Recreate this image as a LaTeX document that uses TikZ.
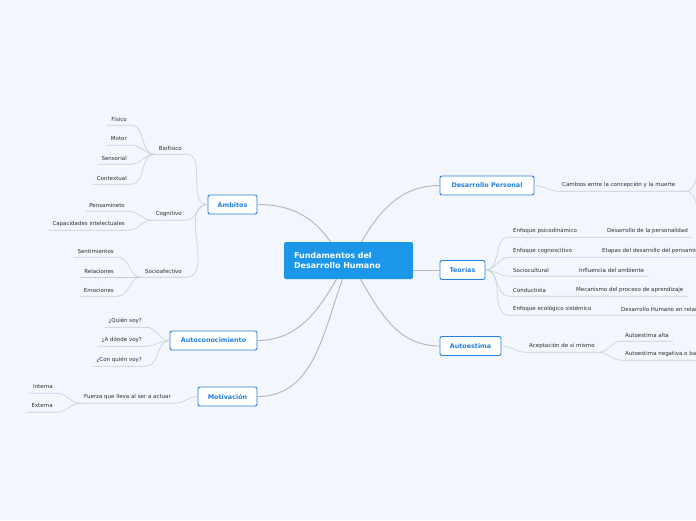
\documentclass[tikz,border=0pt]{standalone}
\usepackage{fontspec}
\setmainfont{DejaVu Sans}
\definecolor{bgcol}{RGB}{243,246,253}
\definecolor{mblue}{RGB}{35,128,222}
\definecolor{cblue}{RGB}{27,150,232}
\definecolor{lgray}{RGB}{200,204,212}
\definecolor{mgray}{RGB}{178,180,186}
\definecolor{tgray}{RGB}{45,45,45}
\begin{document}
\begin{tikzpicture}[x=1pt,y=-1pt,
  topic/.style={draw=mblue,fill=white,rounded corners=2pt,line width=0.9pt,text=mblue,
    font=\bfseries\fontsize{6.4}{7}\selectfont,minimum height=19pt,inner xsep=0pt},
  leaf/.style={text=tgray,font=\fontsize{5.5}{6}\selectfont,inner xsep=4pt,inner ysep=0pt,minimum height=12pt},
  link/.style={draw=lgray,line width=0.6pt},
  mainlink/.style={draw=mgray,line width=0.9pt}]
\fill[bgcol] (0,0) rectangle (696,520);
\useasboundingbox (0,0) rectangle (696,520);
\clip (0,0) rectangle (696,520);

\node[fill=cblue,rounded corners=2pt,minimum width=129pt,minimum height=37pt,text width=109pt,align=left,
  text=white,font=\bfseries\fontsize{8}{10.5}\selectfont] (fdh) at (348.5,260.5) {Fundamentos del\\Desarrollo Humano};

\foreach \n/\x/\y/\w/\t in {amb/232.5/204.5/49/Ámbitos, auc/213.5/340.5/87/Autoconocimiento,
  mot/227.5/396.5/59/Motivación, dep/487/185.5/94/Desarrollo Personal,
  teo/462.5/270/45/Teorías, aut/470.5/346/61/Autoestima}
  \node[topic,minimum width=\w pt] (\n) at (\x,\y) {\t};

\draw[mainlink] ([xshift=-18pt]fdh.north) to[out=125,in=0] (amb.east);
\draw[mainlink] ([xshift=-12pt]fdh.south) to[out=-120,in=0] (auc.east);
\draw[mainlink] ([xshift=-6pt]fdh.south) to[out=-110,in=0] (mot.east);
\draw[mainlink] ([xshift=13pt]fdh.north) to[out=60,in=180] (dep.west);
\draw[mainlink] (fdh.east |- teo.west) -- (teo.west);
\draw[mainlink] ([xshift=12pt]fdh.south) to[out=-60,in=180] (aut.west);

% Ambitos
\foreach \n/\y/\t in {bio/148/Biofísico, cog/214/Cognitivo, soc/271/Socioafectivo}
{\node[leaf,anchor=east] (\n) at (186,\y) {\t};
 \draw[link] (\n.south west) -- (\n.south east) to[out=0,in=180] (amb.west);
}
\foreach \n/\y/\t in {fis/119/Físico, mtr/139/Motor, sen/158/Sensorial, ctx/178/Contextual}
{\node[leaf,anchor=east] (\n) at (131,\y) {\t};
 \draw[link] (\n.south west) -- (\n.south east) to[out=0,in=180] (bio.south west);
}
\foreach \n/\y/\t in {pen/205/Pensamineto, cap/224/Capacidades intelectuales}
{\node[leaf,anchor=east] (\n) at (129,\y) {\t};
 \draw[link] (\n.south west) -- (\n.south east) to[out=0,in=180] (cog.south west);
}
\foreach \n/\y/\t in {sen/251/Sentimientos, rel/271/Relaciones, emo/290/Emociones}
{\node[leaf,anchor=east] (\n) at (118,\y) {\t};
 \draw[link] (\n.south west) -- (\n.south east) to[out=0,in=180] (soc.south west);
}

% Autoconocimiento
\foreach \n/\y/\t in {qui/321/¿Quién soy?, ado/340/¿A dónde voy?, cqu/360/¿Con quién voy?}
{\node[leaf,anchor=east] (\n) at (146,\y) {\t};
 \draw[link] (\n.south west) -- (\n.south east) to[out=0,in=180] (auc.west);
}

% Motivacion
\node[leaf,anchor=east] (fue) at (175,397) {Fuerza que lleva al ser a actuar};
\draw[link] (fue.south west) -- (fue.south east) to[out=0,in=180] (mot.west);
\foreach \n/\y/\t in {int/387/Interna, ext/406/Externa}
{\node[leaf,anchor=east] (\n) at (57,\y) {\t};
 \draw[link] (\n.south west) -- (\n.south east) to[out=0,in=180] (fue.south west);
}

% Desarrollo Personal
\node[leaf,anchor=west] (cam) at (558,185) {Cambios entre la concepción y la muerte};
\coordinate (cup) at (708,163);
\coordinate (cdn) at (708,219);
\draw[link] (dep.east) to[out=0,in=180] (cam.south west) -- ([xshift=6pt]cam.south east) coordinate (cj);
\draw[link] (cj) to[out=0,in=180] (cup) (cj) to[out=0,in=180] (cdn);

% Teorias
\foreach \n/\y/\t/\gx/\gt in {psi/231/Enfoque psicodinámico/603/Desarrollo de la personalidad,
  cgn/251/Enfoque cognoscitivo/598/Etapas del desarrollo del pensamiento,
  scu/270/Sociocultural/575/Influencia del ambiente,
  cnd/290/Conductista/572/Mecanismo del proceso de aprendizaje,
  eco/309/Enfoque ecológico sistémico/617/Desarrollo Humano en relación}
{\node[leaf,anchor=west] (\n) at (509,\y) {\t};
 \node[leaf,anchor=west] (g\n) at (\gx,\y) {\gt};
 \draw[link] (teo.east) to[out=0,in=180] (\n.south west) -- (g\n.south east);
}

% Autoestima
\node[leaf,anchor=west] (acp) at (525,346) {Aceptación de sí mismo};
\draw[link] (aut.east) to[out=0,in=180] (acp.south west) -- (acp.south east);
\foreach \n/\y/\t in {alt/335/Autoestima alta, neg/354/Autoestima negativa o baja}
{\node[leaf,anchor=west] (\n) at (621,\y) {\t};
 \draw[link] (acp.south east) to[out=0,in=180] (\n.south west) -- (\n.south east);
}
\end{tikzpicture}
\end{document}
